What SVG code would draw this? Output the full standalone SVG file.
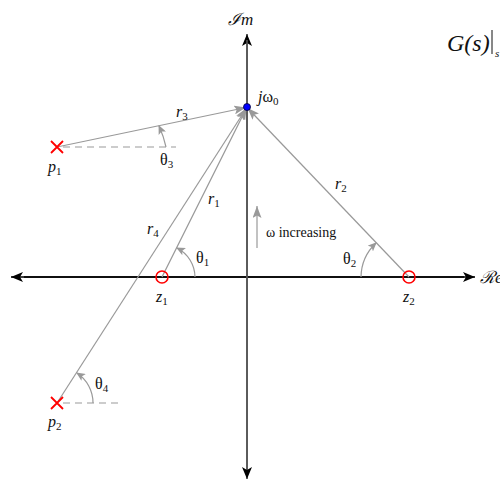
<svg xmlns="http://www.w3.org/2000/svg" width="500" height="480" viewBox="0 0 500 480">
<defs>
<marker id="ax" viewBox="0 0 12 10" refX="12" refY="5" markerWidth="12" markerHeight="10" markerUnits="userSpaceOnUse" orient="auto">
<path d="M0,0 L12,5 L0,10 L3,5 Z" fill="#000"/>
</marker>
<marker id="ga" viewBox="0 0 12 9" refX="12" refY="4.5" markerWidth="12" markerHeight="9" markerUnits="userSpaceOnUse" orient="auto">
<path d="M0,0 L12,4.5 L0,9 L2.5,4.5 Z" fill="#999"/>
</marker>
<marker id="sa" viewBox="0 0 9 8" refX="8" refY="4" markerWidth="9" markerHeight="8" markerUnits="userSpaceOnUse" orient="auto">
<path d="M0,0 L9,4 L0,8 L2,4 Z" fill="#999"/>
</marker>
</defs>
<style>
.axh{stroke:#000;stroke-width:1.3;fill:none}
.axv{stroke:#555;stroke-width:1.6;fill:none}
.r{stroke:#999;stroke-width:1.2;fill:none}
.d{stroke:#999;stroke-width:1.2;stroke-dasharray:7,5;fill:none}
.arc{stroke:#999;stroke-width:1.2;fill:none}
.x{stroke:#f00;stroke-width:1.8}
.o{stroke:#f00;stroke-width:1.6;fill:none}
.t{font-size:16px}
.i{font-style:italic}
.s{font-size:11px;font-style:normal}
</style>
<g id="connectors">
<line class="axh" x1="464" y1="277" x2="11" y2="277" marker-end="url(#ax)"/>
<line class="axh" x1="24" y1="277" x2="475" y2="277" marker-end="url(#ax)"/>
<line class="axv" x1="247" y1="470" x2="247" y2="34" marker-end="url(#ax)"/>
<line class="axv" x1="247" y1="40" x2="247" y2="479" marker-end="url(#ax)"/>
<line class="r" x1="57" y1="147" x2="246" y2="107.5" marker-end="url(#ga)"/>
<line class="r" x1="162" y1="277" x2="246.5" y2="108" marker-end="url(#ga)"/>
<line class="r" x1="57" y1="403" x2="246.5" y2="108" marker-end="url(#ga)"/>
<line class="r" x1="409" y1="277" x2="247.5" y2="108" marker-end="url(#ga)"/>
<line class="d" x1="63" y1="147" x2="176" y2="147"/>
<line class="d" x1="63" y1="403" x2="123" y2="403"/>
<path class="arc" d="M166,147 A104,104 0 0 0 159,126" marker-end="url(#sa)"/>
<path class="arc" d="M195,277 A33,33 0 0 0 177,248" marker-end="url(#sa)"/>
<path class="arc" d="M361,277 A48,48 0 0 1 376,243" marker-end="url(#sa)"/>
<path class="arc" d="M93,403 A36,36 0 0 0 77,373" marker-end="url(#sa)"/>
<line class="r" x1="257" y1="248" x2="257" y2="206" stroke-width="1.5" marker-end="url(#ga)"/>
</g>
<g font-family="Liberation Serif, DejaVu Serif, serif" fill="#111">
<g id="jw0">
<circle cx="247" cy="107" r="3.5" fill="#00f" stroke="#003" stroke-width="0.8"/>
<text class="t" x="258" y="102"><tspan class="i">j</tspan>ω<tspan class="s" dy="3">0</tspan></text>
</g>
<g id="p1">
<path class="x" d="M51,141 L63,153 M63,141 L51,153"/>
<text class="t i" x="48" y="172">p<tspan class="s" dy="3">1</tspan></text>
</g>
<g id="p2">
<path class="x" d="M51,397 L63,409 M63,397 L51,409"/>
<text class="t i" x="48" y="427">p<tspan class="s" dy="3">2</tspan></text>
</g>
<g id="z1">
<circle class="o" cx="162" cy="277" r="6"/>
<text class="t i" x="156" y="302">z<tspan class="s" dy="3">1</tspan></text>
</g>
<g id="z2">
<circle class="o" cx="409" cy="277" r="6"/>
<text class="t i" x="403" y="302">z<tspan class="s" dy="3">2</tspan></text>
</g>
<g id="labels">
<text class="t i" x="176" y="117">r<tspan class="s" dy="3">3</tspan></text>
<text class="t i" x="208" y="204">r<tspan class="s" dy="3">1</tspan></text>
<text class="t i" x="147" y="234">r<tspan class="s" dy="3">4</tspan></text>
<text class="t i" x="335" y="189">r<tspan class="s" dy="3">2</tspan></text>
<text class="t" x="160" y="165">θ<tspan class="s" dy="3">3</tspan></text>
<text class="t" x="196" y="263">θ<tspan class="s" dy="3">1</tspan></text>
<text class="t" x="343" y="264">θ<tspan class="s" dy="3">2</tspan></text>
<text class="t" x="95" y="389">θ<tspan class="s" dy="3">4</tspan></text>
<text x="266" y="237" font-size="14">ω increasing</text>
<text class="i" x="228" y="25" font-size="17">ℐm</text>
<text class="i" x="480" y="283" font-size="17">ℛe</text>
<text class="i" x="447" y="51" font-size="24">G(s)</text>
<line x1="492" y1="30" x2="492" y2="54" stroke="#111" stroke-width="1"/>
<text class="i" x="495" y="57" font-size="11">s</text>
</g>
</g>
</svg>
